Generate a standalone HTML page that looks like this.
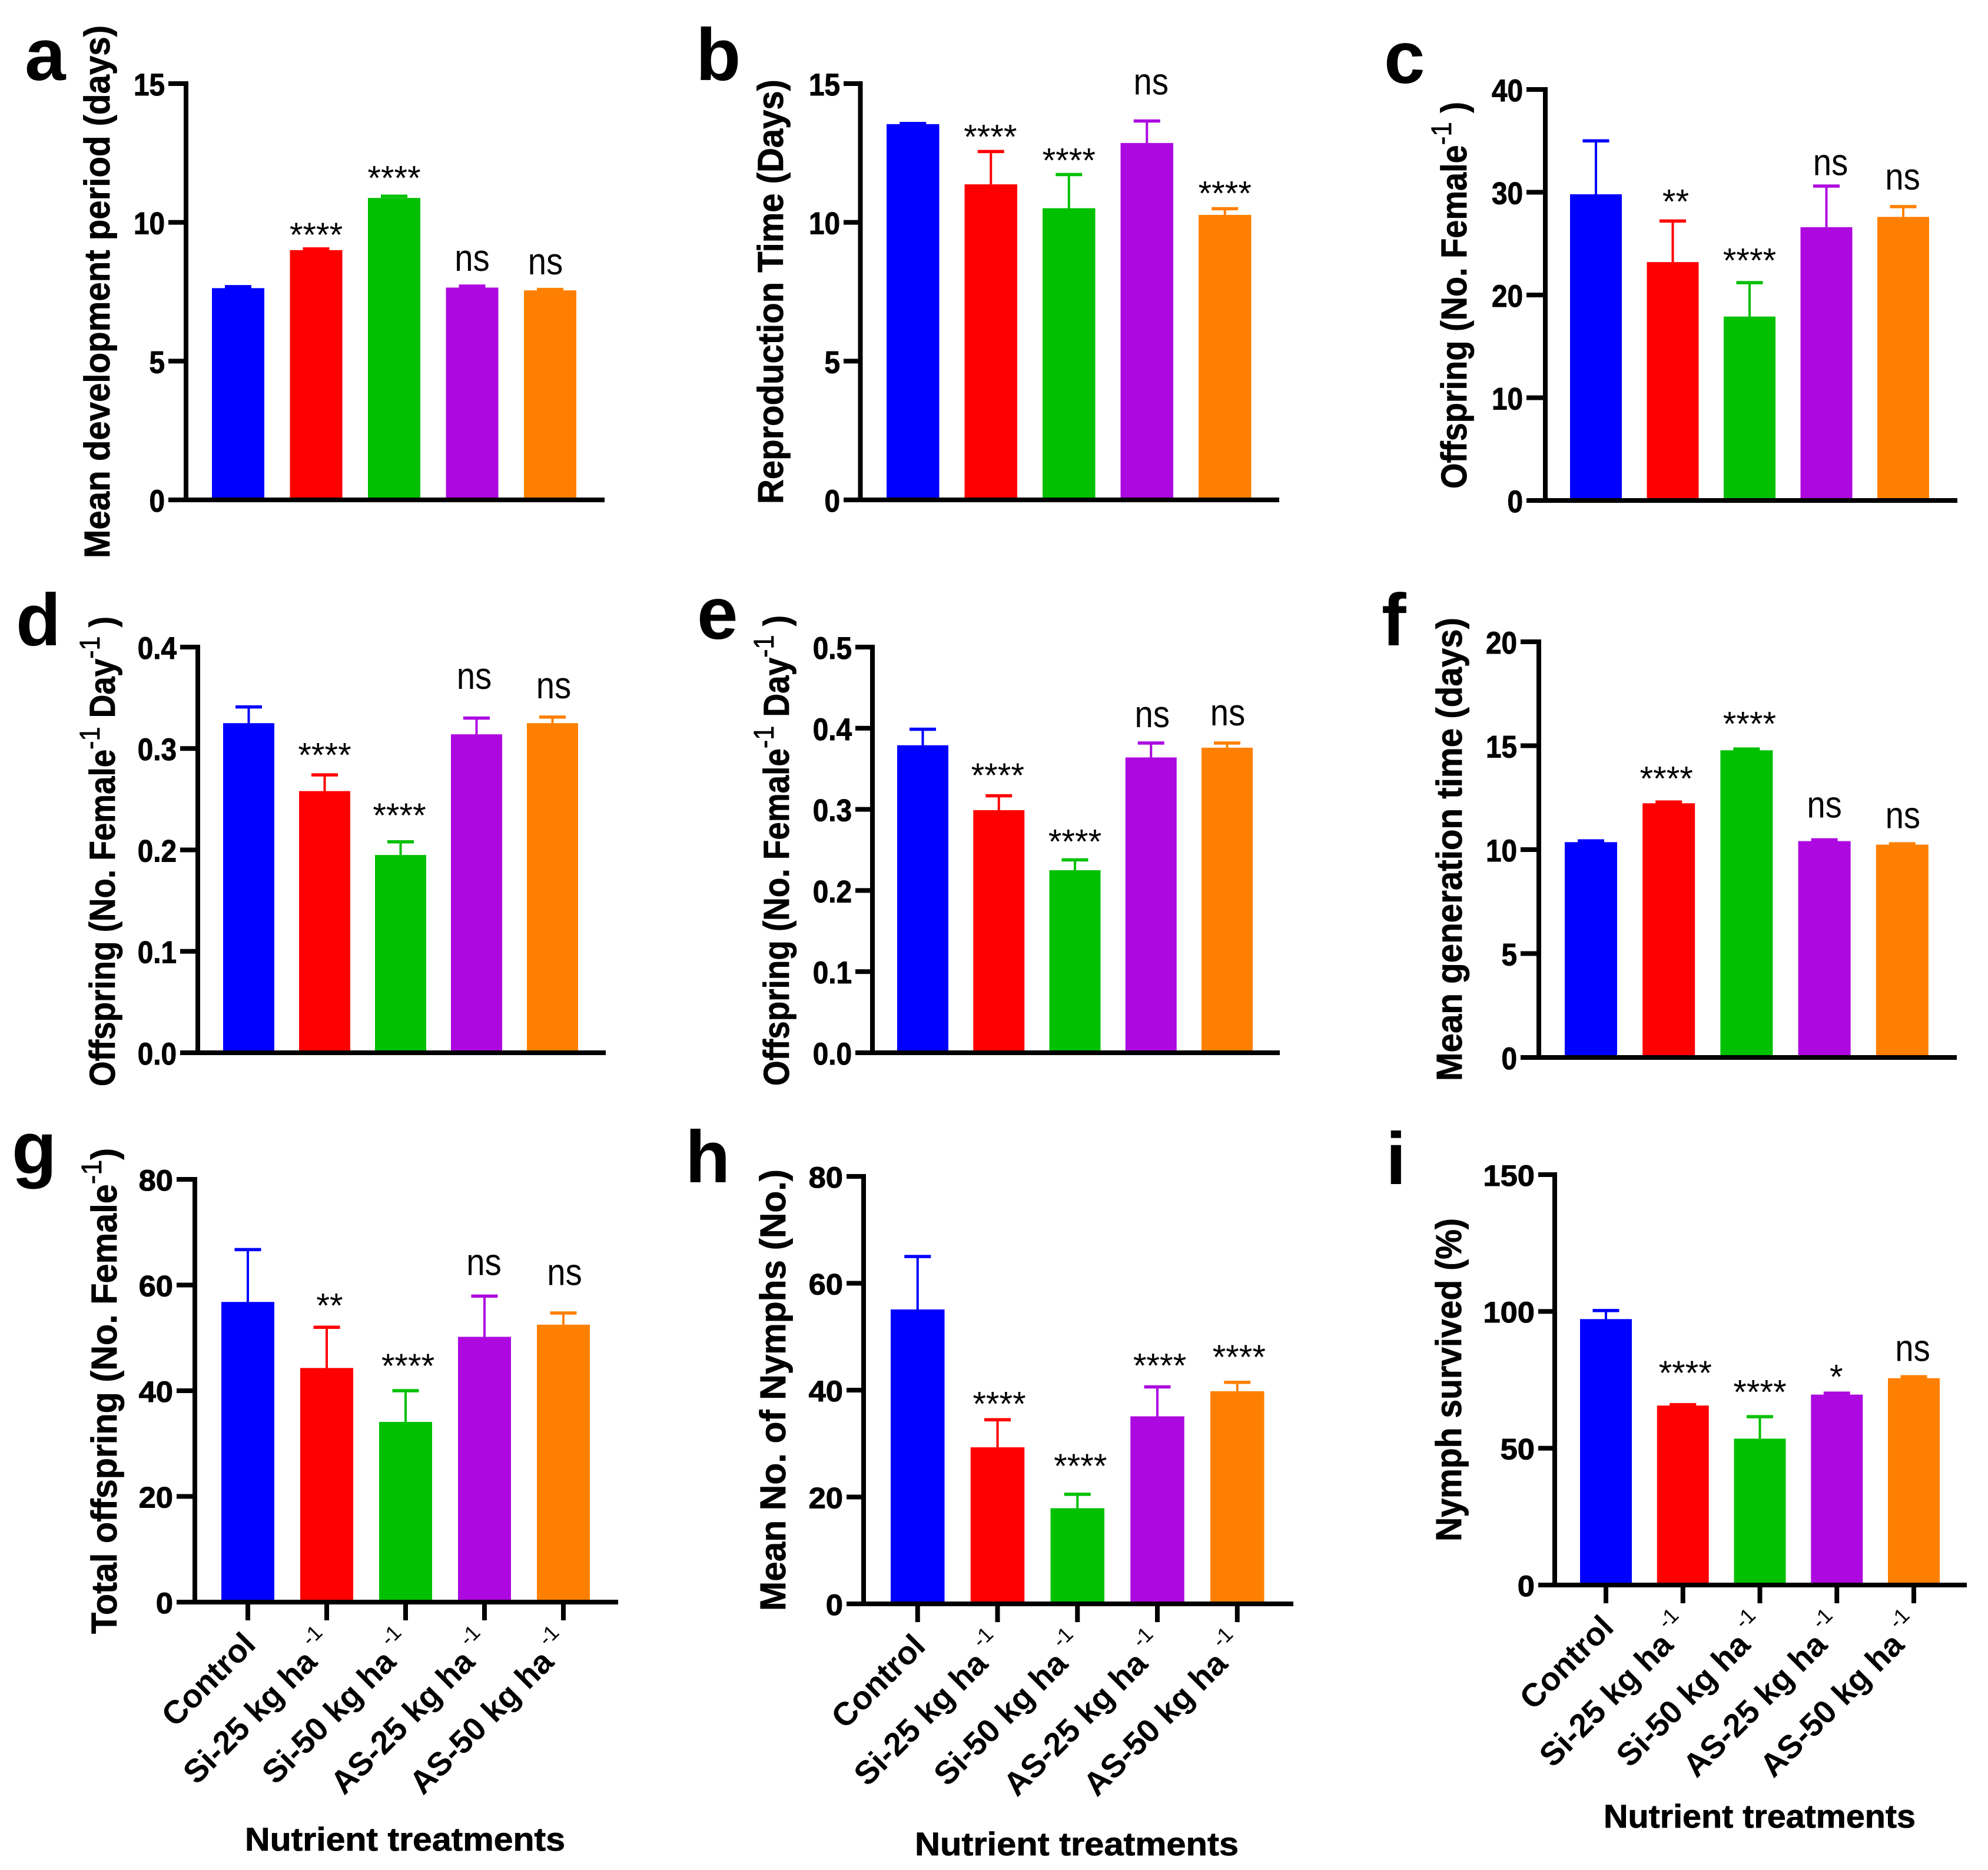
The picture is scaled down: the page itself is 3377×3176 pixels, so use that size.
<!DOCTYPE html>
<html lang="en">
<head>
<meta charset="utf-8">
<title>Nutrient treatment bar charts</title>
<style>
html,body{margin:0;padding:0;background:#fff;}
svg{display:block;font-family:"Liberation Sans",Arial,sans-serif;}
</style>
</head>
<body>
<svg id="figure" xmlns="http://www.w3.org/2000/svg" width="3377" height="3176" viewBox="0 0 3377 3176"></svg>
<script>
const categories = ["Control", "Si-25 kg ha", "Si-50 kg ha", "AS-25 kg ha", "AS-50 kg ha"];
const barColors = ["#0000ff", "#ff0000", "#00c000", "#ad08e0", "#ff8000"];

const aMeans = [7.63, 9.0, 10.88, 7.65, 7.55];
const aErrors = [7.72, 9.08, 10.98, 7.74, 7.62];
const aTicks = ["0", "5", "10", "15"];
const aSig = ["", "****", "****", "ns", "ns"];

const bMeans = [13.54, 11.37, 10.51, 12.86, 10.27];
const bErrors = [13.6, 12.59, 11.76, 13.69, 10.53];
const bTicks = ["0", "5", "10", "15"];
const bSig = ["", "****", "****", "ns", "****"];

const cMeans = [29.8, 23.2, 17.9, 26.6, 27.6];
const cErrors = [35.1, 27.3, 21.3, 30.7, 28.7];
const cTicks = ["0", "10", "20", "30", "40"];
const cSig = ["", "**", "****", "ns", "ns"];

const dMeans = [0.325, 0.258, 0.195, 0.314, 0.325];
const dErrors = [0.342, 0.275, 0.209, 0.331, 0.332];
const dTicks = ["0.0", "0.1", "0.2", "0.3", "0.4"];
const dSig = ["", "****", "****", "ns", "ns"];

const eMeans = [0.379, 0.299, 0.225, 0.364, 0.376];
const eErrors = [0.400, 0.318, 0.239, 0.383, 0.383];
const eTicks = ["0.0", "0.1", "0.2", "0.3", "0.4", "0.5"];
const eSig = ["", "****", "****", "ns", "ns"];

const fMeans = [10.36, 12.23, 14.78, 10.41, 10.24];
const fErrors = [10.47, 12.34, 14.89, 10.52, 10.33];
const fTicks = ["0", "5", "10", "15", "20"];
const fSig = ["", "****", "****", "ns", "ns"];

const gMeans = [56.8, 44.3, 34.1, 50.2, 52.5];
const gErrors = [66.9, 52.2, 40.2, 58.1, 54.9];
const gTicks = ["0", "20", "40", "60", "80"];
const gSig = ["", "**", "****", "ns", "ns"];

const hMeans = [55.1, 29.3, 17.9, 35.1, 39.8];
const hErrors = [65.2, 34.65, 20.7, 40.8, 41.65];
const hTicks = ["0", "20", "40", "60", "80"];
const hSig = ["", "****", "****", "****", "****"];

const iMeans = [97.2, 65.6, 53.5, 69.6, 75.6];
const iErrors = [100.7, 66.3, 61.9, 70.5, 76.5];
const iTicks = ["0", "50", "100", "150"];
const iSig = ["", "****", "****", "*", "ns"];

const panels = [
 {id:"a",means:aMeans,errs:aErrors,ticks:aTicks,sig:aSig,axisX:316,y0:849,yTop:142,tickL:286,xEnd:1027,bar0:360,pitch:132.5,barW:89,
  letter:[42,136],title:[["Mean development period (days)"]],titleX:186,titleStart:948,titleLen:905,gaps:[0,-2,5,24,24],shift:[0,0,0,0,-8]},
 {id:"b",means:bMeans,errs:bErrors,ticks:bTicks,sig:bSig,axisX:1461.5,y0:849,yTop:142,tickL:1433,xEnd:2173,bar0:1506,pitch:132.5,barW:89.5,
  letter:[1182,136],title:[["Reproduction Time (Days)"]],titleX:1330,titleStart:856,titleLen:721,gaps:[0,-1,-2,43,0],shift:[0,-1,0,7,0]},
 {id:"c",means:cMeans,errs:cErrors,ticks:cTicks,sig:cSig,axisX:2625,y0:850,yTop:152,tickL:2593,xEnd:3325,bar0:2667,pitch:130.5,barW:88,
  letter:[2351,141],title:[["Offspring (No. Female"],["-1",1],[" )"]],titleX:2491,titleStart:830,titleLen:657,gaps:[0,7,12,17,27],shift:[0,5,0,7,-1]},
 {id:"d",means:dMeans,errs:dErrors,ticks:dTicks,sig:dSig,axisX:336,y0:1788,yTop:1099,tickL:306,xEnd:1029,bar0:379,pitch:129,barW:87,
  letter:[27,1096],title:[["Offspring (No. Female"],["-1",1],[" Day"],["-1",1],[" )"]],titleX:195,titleStart:1845,titleLen:798,gaps:[0,8,19,48,30],shift:[0,0,-2,-4,2]},
 {id:"e",means:eMeans,errs:eErrors,ticks:eTicks,sig:eSig,axisX:1482,y0:1788,yTop:1099,tickL:1453,xEnd:2174,bar0:1524,pitch:129.25,barW:87,
  letter:[1184,1085],title:[["Offspring (No. Female"],["-1",1],[" Day"],["-1",1],[" )"]],titleX:1340,titleStart:1844,titleLen:799,gaps:[0,9,5,25,28],shift:[0,-2,0,2,1]},
 {id:"f",means:fMeans,errs:fErrors,ticks:fTicks,sig:fSig,axisX:2614,y0:1796,yTop:1090,tickL:2583,xEnd:3324,bar0:2658,pitch:132.2,barW:89,
  letter:[2347,1096],title:[["Mean generation time (days)"]],titleX:2483,titleStart:1836,titleLen:787,gaps:[0,14,17,36,25],shift:[0,-4,5,0,1]},
 {id:"g",means:gMeans,errs:gErrors,ticks:gTicks,sig:gSig,axisX:331,y0:2721,yTop:2003,tickL:300,xEnd:1050,bar0:376,pitch:134,barW:90,wide:true,
  letter:[20,1993],title:[["Total offspring (No. Female"],["-1",1],[")"]],titleX:198,titleStart:2775,titleLen:825,gaps:[0,11,16,34,46],shift:[0,5,4,-1,2],
  xTitle:[416,3143,544]},
 {id:"h",means:hMeans,errs:hErrors,ticks:hTicks,sig:hSig,axisX:1467,y0:2724,yTop:1998,tickL:1438,xEnd:2197,bar0:1513,pitch:135.75,barW:91.5,wide:true,
  letter:[1164,2008],title:[["Mean No. of Nymphs (No.)"]],titleX:1334,titleStart:2736,titleLen:750,gaps:[0,1,22,10,17],shift:[0,3,5,4,3],
  xTitle:[1554,3151,550]},
 {id:"i",means:iMeans,errs:iErrors,ticks:iTicks,sig:iSig,axisX:2641,y0:2692,yTop:1995,tickL:2613,xEnd:3341,bar0:2684,pitch:130.75,barW:88,wide:true,
  letter:[2354,2011],title:[["Nymph survived (%)"]],titleX:2482,titleStart:2618,titleLen:549,gaps:[0,28,16,2,25],shift:[0,4,0,-1,-2],
  xTitle:[2724,3104,530]}
];

const NS = "http://www.w3.org/2000/svg";
const root = document.getElementById("figure");

function add(parent, tag, attrs, text) {
  const el = document.createElementNS(NS, tag);
  for (const k in attrs) el.setAttribute(k, attrs[k]);
  if (text !== undefined) el.textContent = text;
  parent.appendChild(el);
  return el;
}

panels.forEach(function (p) {
  const maxV = parseFloat(p.ticks[p.ticks.length - 1]);
  const yScale = function (v) { return p.y0 - (v / maxV) * (p.y0 - p.yTop); };
  const xScale = function (i) { return p.bar0 + p.barW / 2 + i * p.pitch; };

  const g = add(root, "g", {});
  
  

  const letter = add(g, "text", {x: p.letter[0], y: p.letter[1], "font-size": 125, "font-weight": "bold", fill: "#000"}, p.id);
  
  

  // y axis title
  const title = add(g, "text", {
    transform: "translate(" + p.titleX + "," + p.titleStart + ") rotate(-90)",
    "font-size": 61, "font-weight": "bold", fill: "#000", stroke: "#000", "stroke-width": 0.8,
    textLength: p.titleLen, lengthAdjust: "spacingAndGlyphs"
  });
  
  
  let raised = false;
  p.title.forEach(function (part) {
    const isSup = !!part[1];
    const attrs = {};
    if (isSup) { attrs["font-size"] = 48; attrs["font-weight"] = "normal"; attrs.dy = -26; raised = true; }
    else if (raised) { attrs.dy = 26; raised = false; }
    const span = add(title, "tspan", attrs, part[0]);
    span.setAttribute("xml:space", "preserve");
    span.style.whiteSpace = "pre";
  });

  // bars and error bars
  p.means.forEach(function (v, i) {
    const cx = xScale(i);
    const top = yScale(v);
    const errY = yScale(p.errs[i]);
    const color = barColors[i];

    const stem = add(g, "rect", {x: cx - 2, y: errY, width: 4, height: Math.max(0, top - errY), fill: color});
    
    

    const cap = add(g, "rect", {x: cx - 22.5, y: errY - 1, width: 45, height: 5.5, fill: color});
    
    

    const bar = add(g, "rect", {x: cx - p.barW / 2, y: top, width: p.barW, height: p.y0 - top, fill: color});
    
    

    // significance label
    const s = p.sig[i];
    if (s) {
      const sx = cx + p.shift[i];
      const isNs = s === "ns";
      const sy = errY - p.gaps[i] - (isNs ? 0 : 4);
      const lab = add(g, "text", {
        transform: "translate(" + sx + "," + sy + ") scale(" + (isNs ? 0.88 : 1) + ",1)",
        "font-size": isNs ? 64 : 58, "text-anchor": "middle", fill: "#000"
      }, s);
      
      
    }
  });

  // axes
  const yAxis = add(g, "rect", {x: p.axisX - 4, y: p.yTop - 4, width: 8, height: p.y0 - p.yTop + 8, fill: "#000"});
  
  

  const xAxis = add(g, "rect", {x: p.tickL, y: p.y0 - 4, width: p.xEnd - p.tickL, height: 8, fill: "#000"});
  
  

  p.ticks.forEach(function (t, k) {
    const ty = yScale(parseFloat(t));
    const tick = add(g, "rect", {x: p.tickL, y: ty - 4, width: p.axisX - p.tickL, height: 8, fill: "#000"});
    
    

    const size = p.wide ? 50 : 53;
    const sx = p.wide ? 1.05 : 0.9;
    const lab = add(g, "text", {
      transform: "translate(" + (p.tickL - 6) + "," + (ty + size * 0.716 / 2 + 1) + ") scale(" + sx + ",1)",
      "font-size": size, "font-weight": "bold", "text-anchor": "end", fill: "#000", stroke: "#000", "stroke-width": 1
    }, t);
    
    
  });

  // category ticks + labels on the bottom row only
  if (p.wide) {
    categories.forEach(function (c, i) {
      const cx = xScale(i);
      const tick = add(g, "rect", {x: cx - 4, y: p.y0, width: 8, height: 31, fill: "#000"});
      
      

      const lab = add(g, "text", {
        transform: "translate(" + (cx + 16) + "," + (p.y0 + 75) + ") rotate(-45)",
        "font-size": 55.5, "font-weight": "bold", "text-anchor": "end", fill: "#000"
      });
      
      
      add(lab, "tspan", {}, c);
      if (i > 0) {
        const sup = add(lab, "tspan", {"font-size": 36, "font-weight": "normal", dy: -30, dx: 10}, "-1");
        
        
      }
    });

    const xt = add(g, "text", {
      x: p.xTitle[0], y: p.xTitle[1], "font-size": 56, "font-weight": "bold", fill: "#000", stroke: "#000", "stroke-width": 0.8,
      textLength: p.xTitle[2], lengthAdjust: "spacingAndGlyphs"
    }, "Nutrient treatments");
    
    
  }
});
</script>
</body>
</html>
